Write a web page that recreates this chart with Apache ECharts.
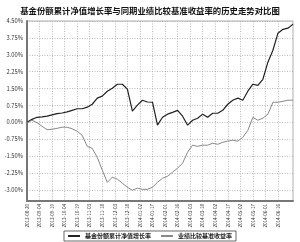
<!DOCTYPE html>
<html>
<head>
<meta charset="utf-8">
<script src="https://cdn.jsdelivr.net/npm/echarts@6/dist/echarts.min.js"></script>
<style>
html, body { margin: 0; padding: 0; background: #fff; }
#chart { width: 300px; height: 242px; }
</style>
</head>
<body>
<div id="chart"></div>
<script>
// x轴刻度（每15天一个）
var dateLabels = ['2013-08-20', '2013-09-04', '2013-09-19', '2013-10-04', '2013-10-19', '2013-11-03', '2013-11-18',
  '2013-12-03', '2013-12-18', '2014-01-02', '2014-01-17', '2014-02-01', '2014-02-16', '2014-03-03',
  '2014-03-18', '2014-04-02', '2014-04-17', '2014-05-02', '2014-05-17', '2014-06-01', '2014-06-16']
var dayStep = 15
var sampleStep = 6

// 基金份额累计净值增长率 (%)，每6天取一点
var fundGrowth = [0.00, 0.13, 0.22, 0.24, 0.27, 0.33, 0.38, 0.41, 0.46, 0.53,
  0.60, 0.60, 0.67, 0.80, 1.07, 1.16, 1.38, 1.51, 1.69, 1.69,
  1.47, 0.49, 0.76, 0.98, 0.90, 0.89, -0.13, 0.22, 0.36, 0.44,
  0.53, 0.27, -0.13, 0.09, 0.18, 0.36, 0.22, 0.40, 0.40, 0.53,
  0.80, 0.98, 1.07, 0.98, 1.38, 1.69, 1.64, 1.91, 2.67, 3.20,
  3.96, 4.13, 4.18, 4.36]

// 业绩比较基准收益率 (%)
var benchmark = [-0.04, 0.09, -0.02, -0.18, -0.33, -0.31, -0.27, -0.22, -0.22, -0.29,
  -0.40, -0.58, -1.07, -1.16, -1.56, -2.13, -2.67, -2.44, -2.53, -2.71,
  -2.89, -3.02, -2.93, -2.98, -2.98, -2.89, -2.67, -2.49, -2.40, -2.22,
  -2.04, -1.82, -1.33, -1.02, -1.07, -1.02, -1.02, -0.93, -0.98, -0.89,
  -0.84, -0.80, -0.84, -0.67, -0.36, 0.22, 0.09, 0.18, 0.36, 0.89,
  0.89, 0.93, 0.98, 0.98]

// y轴刻度
var yTicks = [4.5, 3.75, 3.0, 2.25, 1.5, 0.75, 0, -0.75, -1.5, -2.25, -3.0]

var xTicks = dateLabels.map(function (d, i) { return i * dayStep })
var toPairs = function (arr) {
  return arr.map(function (v, i) { return [i * sampleStep, v] })
}

var chart = echarts.init(document.getElementById('chart'))
var option = {
  animation: false,
  backgroundColor: '#fff',
  textStyle: { fontFamily: '"Noto Sans CJK SC", "DejaVu Sans", sans-serif' },
  title: {
    text: '基金份额累计净值增长率与同期业绩比较基准收益率的历史走势对比图',
    left: 'center',
    top: 2,
    textStyle: { fontSize: 8.4, fontWeight: 'bold', color: '#111' }
  },
  legend: {
    bottom: 1,
    left: 'center',
    itemWidth: 12,
    itemHeight: 2,
    itemGap: 10,
    padding: [2, 4],
    borderColor: '#444',
    borderWidth: 0.8,
    textStyle: { fontSize: 6, color: '#222', fontWeight: 'bold' },
    data: [
      { name: '基金份额累计净值增长率', icon: 'rect' },
      { name: '业绩比较基准收益率', icon: 'rect' }
    ]
  },
  grid: {
    left: 27,
    right: 7,
    top: 21,
    bottom: 41,
    show: true,
    borderColor: '#999',
    borderWidth: 0.8
  },
  xAxis: {
    type: 'value',
    min: 0,
    max: (fundGrowth.length - 1) * sampleStep,
    axisLine: { onZero: false, lineStyle: { color: '#777', width: 2 } },
    axisTick: { show: false, customValues: xTicks },
    axisLabel: {
      customValues: xTicks,
      rotate: 90,
      fontSize: 4.6,
      color: '#333',
      margin: 3,
      formatter: function (v) { return dateLabels[Math.round(v / dayStep)] || '' }
    },
    splitLine: { show: true, lineStyle: { color: '#aaa', type: [1, 1.5], width: 0.8 } }
  },
  yAxis: {
    type: 'value',
    min: -3.5,
    max: 4.5,
    axisLine: { show: true, lineStyle: { color: '#777', width: 2 } },
    axisTick: { show: false, customValues: yTicks },
    axisLabel: {
      customValues: yTicks,
      fontSize: 5.8,
      color: '#333',
      margin: 4,
      formatter: function (v) { return v.toFixed(2) + '%' }
    },
    splitLine: { show: true, lineStyle: { color: '#aaa', type: [1, 1.5], width: 0.8 } }
  },
  series: [
    {
      name: '基金份额累计净值增长率',
      type: 'line',
      symbol: 'none',
      data: toPairs(fundGrowth),
      itemStyle: { color: '#222' },
      lineStyle: { color: '#222', width: 1.2 }
    },
    {
      name: '业绩比较基准收益率',
      type: 'line',
      symbol: 'none',
      data: toPairs(benchmark),
      itemStyle: { color: '#888' },
      lineStyle: { color: '#888', width: 1 }
    }
  ]
}
chart.setOption(option)
</script>
</body>
</html>
